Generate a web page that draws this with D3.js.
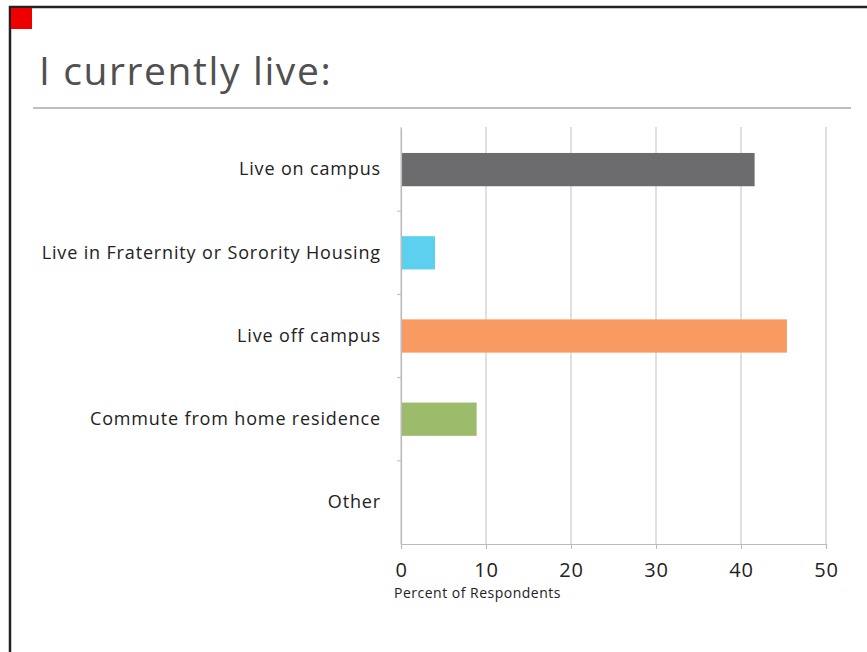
<!DOCTYPE html>
<html>
<head>
<meta charset="utf-8">
<script src="https://cdn.jsdelivr.net/npm/d3@7"></script>
<style>
  html, body { margin: 0; padding: 0; background: #ffffff; }
  svg { display: block; }
</style>
</head>
<body>
<svg id="chart" width="867" height="652"></svg>
<script>
// Survey responses: where students currently live
const categories = [
  "Live on campus",
  "Live in Fraternity or Sorority Housing",
  "Live off campus",
  "Commute from home residence",
  "Other"
];
const percents = [41.6, 4.0, 45.4, 8.9, 0];
const barColors = ["#6c6c6e", "#5dd0ef", "#f89a62", "#9cbb6b", "#cccccc"];
const xTicks = [0, 10, 20, 30, 40, 50];
const titleText = "I currently live:";
const xAxisTitle = "Percent of Respondents";

const FONT = "'Open Sans', Lato, sans-serif";
const svg = d3.select("#chart");

// slide frame: top and left edges
svg.append("line").attr("x1", 9).attr("x2", 867).attr("y1", 7).attr("y2", 7)
  .attr("stroke", "#222").attr("stroke-width", 2.5);
svg.append("line").attr("x1", 10).attr("x2", 10).attr("y1", 6).attr("y2", 652)
  .attr("stroke", "#222").attr("stroke-width", 2.5);

// red corner marker
svg.append("rect").attr("x", 11).attr("y", 8).attr("width", 21).attr("height", 21)
  .attr("fill", "#ee0000");

// title and rule
svg.append("text").attr("x", 39).attr("y", 85)
  .attr("font-family", FONT).attr("font-size", 39)
  .attr("letter-spacing", 1.6)
  .attr("fill", "#505050")
  .text(titleText);
svg.append("line").attr("x1", 33).attr("x2", 851).attr("y1", 108).attr("y2", 108)
  .attr("stroke", "#a8a8a8").attr("stroke-width", 1.5);

// plot area
const x = d3.scaleLinear().domain([0, 50]).range([401, 826]);
const y = d3.scaleBand().domain(categories).range([128, 544]).paddingInner(0.6).paddingOuter(0.3);
const band = d3.scaleBand().domain(categories).range([128, 544]);

// vertical gridlines
svg.append("g").selectAll("line").data(xTicks).join("line")
  .attr("x1", d => x(d)).attr("x2", d => x(d))
  .attr("y1", 127).attr("y2", 544)
  .attr("stroke", "#cccccc").attr("stroke-width", 1.2);

// bars
svg.append("g").selectAll("rect").data(categories).join("rect")
  .attr("x", x(0))
  .attr("y", d => y(d))
  .attr("width", (d, i) => x(percents[i]) - x(0))
  .attr("height", y.bandwidth())
  .attr("fill", (d, i) => barColors[i]);

// category axis
const yAxis = svg.append("g").attr("transform", `translate(${x(0)},0)`)
  .call(d3.axisLeft(band).tickSize(0).tickPadding(20));
yAxis.select(".domain").attr("stroke", "#bbbbbb").attr("stroke-width", 1.2);
yAxis.selectAll("text").attr("font-family", FONT).attr("font-size", 18)
  .attr("letter-spacing", 0.85).attr("fill", "#222");
// small separators between categories
svg.append("g").selectAll("line").data(categories.slice(1)).join("line")
  .attr("x1", x(0) - 4).attr("x2", x(0))
  .attr("y1", d => band(d)).attr("y2", d => band(d))
  .attr("stroke", "#bbbbbb");

// value axis
const xAxis = svg.append("g").attr("transform", "translate(0,544)")
  .call(d3.axisBottom(x).tickValues(xTicks).tickSize(5).tickPadding(14));
xAxis.select(".domain").attr("stroke", "#bbbbbb").attr("stroke-width", 1.2);
xAxis.selectAll("line").attr("stroke", "#bbbbbb");
xAxis.selectAll("text").attr("font-family", FONT).attr("font-size", 20)
  .attr("letter-spacing", 0.8).attr("fill", "#222");

svg.append("text").attr("x", 394).attr("y", 598)
  .attr("font-family", FONT).attr("font-size", 14).attr("letter-spacing", 0.5)
  .attr("fill", "#222")
  .text(xAxisTitle);
</script>
</body>
</html>
